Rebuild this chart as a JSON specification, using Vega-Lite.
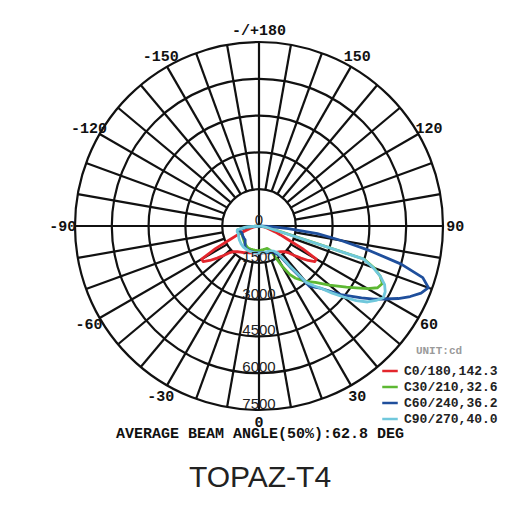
{
  "$schema": "https://vega.github.io/schema/vega-lite/v6.json",
  "width": 520,
  "height": 425,
  "padding": 0,
  "background": "white",
  "config": {"view": {"stroke": null}},
  "title": {
    "text": "AVERAGE BEAM ANGLE(50%):62.8 DEG",
    "subtitle": "TOPAZ-T4",
    "orient": "bottom",
    "anchor": "middle",
    "offset": -4,
    "font": "Liberation Mono",
    "fontSize": 15,
    "fontWeight": "bold",
    "color": "#111",
    "subtitleFont": "Liberation Sans",
    "subtitleFontSize": 30,
    "subtitleFontWeight": "normal",
    "subtitleColor": "#222",
    "subtitlePadding": 22
  },
  "layer": [
    {
      "data": {"values": [{"r": 1500}, {"r": 3000}, {"r": 4500}, {"r": 6000}, {"r": 7500}]},
      "mark": {"type": "point", "shape": "circle", "filled": false, "stroke": "#111", "strokeWidth": 2.2, "opacity": 1},
      "encoding": {
        "x": {"datum": 0, "type": "quantitative", "scale": {"domain": [-10557, 10639], "nice": false, "zero": false}, "axis": null},
        "y": {"datum": 0, "type": "quantitative", "scale": {"domain": [-8111, 9212], "nice": false, "zero": false}, "axis": null},
        "size": {"field": "r", "type": "quantitative", "scale": {"type": "pow", "exponent": 2, "domain": [0, 7500], "range": [0, 135424], "zero": true}, "legend": null}
      }
    },
    {
      "data": {"values": [
        {"a": -170, "r0": 1500}, {"a": -160, "r0": 1500}, {"a": -150, "r0": 1500}, {"a": -140, "r0": 1500}, {"a": -130, "r0": 1500}, {"a": -120, "r0": 1500}, {"a": -110, "r0": 1500}, {"a": -100, "r0": 1500}, {"a": -90, "r0": 0},
        {"a": -80, "r0": 1500}, {"a": -70, "r0": 1500}, {"a": -60, "r0": 1500}, {"a": -50, "r0": 1500}, {"a": -40, "r0": 1500}, {"a": -30, "r0": 1500}, {"a": -20, "r0": 1500}, {"a": -10, "r0": 1500}, {"a": 0, "r0": 0},
        {"a": 10, "r0": 1500}, {"a": 20, "r0": 1500}, {"a": 30, "r0": 1500}, {"a": 40, "r0": 1500}, {"a": 50, "r0": 1500}, {"a": 60, "r0": 1500}, {"a": 70, "r0": 1500}, {"a": 80, "r0": 1500}, {"a": 90, "r0": 0},
        {"a": 100, "r0": 1500}, {"a": 110, "r0": 1500}, {"a": 120, "r0": 1500}, {"a": 130, "r0": 1500}, {"a": 140, "r0": 1500}, {"a": 150, "r0": 1500}, {"a": 160, "r0": 1500}, {"a": 170, "r0": 1500}, {"a": 180, "r0": 0}
      ]},
      "transform": [
        {"calculate": "datum.r0 * sin(datum.a * PI / 180)", "as": "x1"},
        {"calculate": "-datum.r0 * cos(datum.a * PI / 180)", "as": "y1"},
        {"calculate": "7500 * sin(datum.a * PI / 180)", "as": "x2"},
        {"calculate": "-7500 * cos(datum.a * PI / 180)", "as": "y2"}
      ],
      "mark": {"type": "rule", "color": "#111", "strokeWidth": 2.2},
      "encoding": {
        "x": {"field": "x1", "type": "quantitative", "scale": {"domain": [-10557, 10639], "nice": false, "zero": false}, "axis": null},
        "y": {"field": "y1", "type": "quantitative", "scale": {"domain": [-8111, 9212], "nice": false, "zero": false}, "axis": null},
        "x2": {"field": "x2"},
        "y2": {"field": "y2"}
      }
    },
    {
      "data": {"values": [
        {"s": "C0/180,142.3", "g": -90, "v": 0}, {"s": "C0/180,142.3", "g": -85, "v": 60}, {"s": "C0/180,142.3", "g": -80, "v": 180}, {"s": "C0/180,142.3", "g": -75, "v": 380}, {"s": "C0/180,142.3", "g": -70, "v": 700}, {"s": "C0/180,142.3", "g": -67.5, "v": 950}, {"s": "C0/180,142.3", "g": -65, "v": 1300}, {"s": "C0/180,142.3", "g": -62.5, "v": 2000}, {"s": "C0/180,142.3", "g": -60, "v": 2700}, {"s": "C0/180,142.3", "g": -57.5, "v": 2700}, {"s": "C0/180,142.3", "g": -55, "v": 2450}, {"s": "C0/180,142.3", "g": -52.5, "v": 2150}, {"s": "C0/180,142.3", "g": -50, "v": 1850}, {"s": "C0/180,142.3", "g": -47.5, "v": 1600}, {"s": "C0/180,142.3", "g": -45, "v": 1480}, {"s": "C0/180,142.3", "g": -40, "v": 1370}, {"s": "C0/180,142.3", "g": -35, "v": 1300}, {"s": "C0/180,142.3", "g": -30, "v": 1250}, {"s": "C0/180,142.3", "g": -25, "v": 1200}, {"s": "C0/180,142.3", "g": -20, "v": 1160}, {"s": "C0/180,142.3", "g": -15, "v": 1130}, {"s": "C0/180,142.3", "g": -10, "v": 1110}, {"s": "C0/180,142.3", "g": -5, "v": 1100},
        {"s": "C0/180,142.3", "g": 0, "v": 1100},
        {"s": "C0/180,142.3", "g": 5, "v": 1100}, {"s": "C0/180,142.3", "g": 10, "v": 1110}, {"s": "C0/180,142.3", "g": 15, "v": 1130}, {"s": "C0/180,142.3", "g": 20, "v": 1160}, {"s": "C0/180,142.3", "g": 25, "v": 1200}, {"s": "C0/180,142.3", "g": 30, "v": 1250}, {"s": "C0/180,142.3", "g": 35, "v": 1300}, {"s": "C0/180,142.3", "g": 40, "v": 1370}, {"s": "C0/180,142.3", "g": 45, "v": 1480}, {"s": "C0/180,142.3", "g": 47.5, "v": 1600}, {"s": "C0/180,142.3", "g": 50, "v": 1850}, {"s": "C0/180,142.3", "g": 52.5, "v": 2150}, {"s": "C0/180,142.3", "g": 55, "v": 2450}, {"s": "C0/180,142.3", "g": 57.5, "v": 2700}, {"s": "C0/180,142.3", "g": 60, "v": 2700}, {"s": "C0/180,142.3", "g": 62.5, "v": 2000}, {"s": "C0/180,142.3", "g": 65, "v": 1300}, {"s": "C0/180,142.3", "g": 67.5, "v": 950}, {"s": "C0/180,142.3", "g": 70, "v": 700}, {"s": "C0/180,142.3", "g": 75, "v": 380}, {"s": "C0/180,142.3", "g": 80, "v": 180}, {"s": "C0/180,142.3", "g": 85, "v": 60}, {"s": "C0/180,142.3", "g": 90, "v": 0},

        {"s": "C30/210,32.6", "g": -90, "v": 0}, {"s": "C30/210,32.6", "g": -85, "v": 480}, {"s": "C30/210,32.6", "g": -80, "v": 870}, {"s": "C30/210,32.6", "g": -75, "v": 860}, {"s": "C30/210,32.6", "g": -70, "v": 800}, {"s": "C30/210,32.6", "g": -65, "v": 780}, {"s": "C30/210,32.6", "g": -60, "v": 780}, {"s": "C30/210,32.6", "g": -55, "v": 800}, {"s": "C30/210,32.6", "g": -50, "v": 830}, {"s": "C30/210,32.6", "g": -45, "v": 860}, {"s": "C30/210,32.6", "g": -40, "v": 900}, {"s": "C30/210,32.6", "g": -35, "v": 940}, {"s": "C30/210,32.6", "g": -30, "v": 980}, {"s": "C30/210,32.6", "g": -25, "v": 1000}, {"s": "C30/210,32.6", "g": -20, "v": 1000}, {"s": "C30/210,32.6", "g": -15, "v": 1000}, {"s": "C30/210,32.6", "g": -10, "v": 1000}, {"s": "C30/210,32.6", "g": -5, "v": 1000},
        {"s": "C30/210,32.6", "g": 0, "v": 1000}, {"s": "C30/210,32.6", "g": 5, "v": 990}, {"s": "C30/210,32.6", "g": 10, "v": 980}, {"s": "C30/210,32.6", "g": 15, "v": 970}, {"s": "C30/210,32.6", "g": 20, "v": 970}, {"s": "C30/210,32.6", "g": 25, "v": 1100}, {"s": "C30/210,32.6", "g": 27.5, "v": 1400}, {"s": "C30/210,32.6", "g": 30, "v": 1900}, {"s": "C30/210,32.6", "g": 32.5, "v": 2350}, {"s": "C30/210,32.6", "g": 35, "v": 2600}, {"s": "C30/210,32.6", "g": 40, "v": 2950}, {"s": "C30/210,32.6", "g": 45, "v": 3250}, {"s": "C30/210,32.6", "g": 50, "v": 3750}, {"s": "C30/210,32.6", "g": 55, "v": 4350}, {"s": "C30/210,32.6", "g": 57.5, "v": 4700}, {"s": "C30/210,32.6", "g": 60, "v": 5100}, {"s": "C30/210,32.6", "g": 62.5, "v": 5450}, {"s": "C30/210,32.6", "g": 65, "v": 5550}, {"s": "C30/210,32.6", "g": 67.5, "v": 5350}, {"s": "C30/210,32.6", "g": 70, "v": 5000}, {"s": "C30/210,32.6", "g": 72.5, "v": 4500}, {"s": "C30/210,32.6", "g": 75, "v": 1000}, {"s": "C30/210,32.6", "g": 80, "v": 350}, {"s": "C30/210,32.6", "g": 85, "v": 100}, {"s": "C30/210,32.6", "g": 90, "v": 0},

        {"s": "C60/240,36.2", "g": -90, "v": 0}, {"s": "C60/240,36.2", "g": -85, "v": 450}, {"s": "C60/240,36.2", "g": -80, "v": 800}, {"s": "C60/240,36.2", "g": -75, "v": 800}, {"s": "C60/240,36.2", "g": -70, "v": 760}, {"s": "C60/240,36.2", "g": -65, "v": 750}, {"s": "C60/240,36.2", "g": -60, "v": 770}, {"s": "C60/240,36.2", "g": -55, "v": 780}, {"s": "C60/240,36.2", "g": -50, "v": 790}, {"s": "C60/240,36.2", "g": -45, "v": 800}, {"s": "C60/240,36.2", "g": -40, "v": 880}, {"s": "C60/240,36.2", "g": -35, "v": 1000}, {"s": "C60/240,36.2", "g": -30, "v": 1060}, {"s": "C60/240,36.2", "g": -20, "v": 1080}, {"s": "C60/240,36.2", "g": -10, "v": 1100},
        {"s": "C60/240,36.2", "g": 0, "v": 1100}, {"s": "C60/240,36.2", "g": 10, "v": 1100}, {"s": "C60/240,36.2", "g": 20, "v": 1150}, {"s": "C60/240,36.2", "g": 30, "v": 1250}, {"s": "C60/240,36.2", "g": 35, "v": 1500}, {"s": "C60/240,36.2", "g": 37.5, "v": 2200}, {"s": "C60/240,36.2", "g": 40, "v": 3200}, {"s": "C60/240,36.2", "g": 45, "v": 3600}, {"s": "C60/240,36.2", "g": 50, "v": 4350}, {"s": "C60/240,36.2", "g": 55, "v": 5100}, {"s": "C60/240,36.2", "g": 57.5, "v": 5550}, {"s": "C60/240,36.2", "g": 60, "v": 5950}, {"s": "C60/240,36.2", "g": 62.5, "v": 6400}, {"s": "C60/240,36.2", "g": 65, "v": 6800}, {"s": "C60/240,36.2", "g": 67.5, "v": 7150}, {"s": "C60/240,36.2", "g": 70, "v": 7350}, {"s": "C60/240,36.2", "g": 72.5, "v": 7000}, {"s": "C60/240,36.2", "g": 75, "v": 6000}, {"s": "C60/240,36.2", "g": 77.5, "v": 4600}, {"s": "C60/240,36.2", "g": 80, "v": 3400}, {"s": "C60/240,36.2", "g": 82.5, "v": 2400}, {"s": "C60/240,36.2", "g": 85, "v": 1200}, {"s": "C60/240,36.2", "g": 87.5, "v": 400}, {"s": "C60/240,36.2", "g": 90, "v": 0},

        {"s": "C90/270,40.0", "g": -90, "v": 0}, {"s": "C90/270,40.0", "g": -85, "v": 550}, {"s": "C90/270,40.0", "g": -80, "v": 900}, {"s": "C90/270,40.0", "g": -75, "v": 920}, {"s": "C90/270,40.0", "g": -70, "v": 900}, {"s": "C90/270,40.0", "g": -65, "v": 920}, {"s": "C90/270,40.0", "g": -60, "v": 950}, {"s": "C90/270,40.0", "g": -55, "v": 980}, {"s": "C90/270,40.0", "g": -50, "v": 1000}, {"s": "C90/270,40.0", "g": -45, "v": 1030}, {"s": "C90/270,40.0", "g": -40, "v": 1050}, {"s": "C90/270,40.0", "g": -35, "v": 1070}, {"s": "C90/270,40.0", "g": -30, "v": 1080}, {"s": "C90/270,40.0", "g": -20, "v": 1100}, {"s": "C90/270,40.0", "g": -10, "v": 1100},
        {"s": "C90/270,40.0", "g": 0, "v": 1100}, {"s": "C90/270,40.0", "g": 10, "v": 1100}, {"s": "C90/270,40.0", "g": 20, "v": 1100}, {"s": "C90/270,40.0", "g": 25, "v": 1120}, {"s": "C90/270,40.0", "g": 30, "v": 1180}, {"s": "C90/270,40.0", "g": 35, "v": 1350}, {"s": "C90/270,40.0", "g": 37.5, "v": 2000}, {"s": "C90/270,40.0", "g": 40, "v": 3000}, {"s": "C90/270,40.0", "g": 42.5, "v": 3300}, {"s": "C90/270,40.0", "g": 45, "v": 3600}, {"s": "C90/270,40.0", "g": 47.5, "v": 4050}, {"s": "C90/270,40.0", "g": 50, "v": 4500}, {"s": "C90/270,40.0", "g": 52.5, "v": 5000}, {"s": "C90/270,40.0", "g": 55, "v": 5400}, {"s": "C90/270,40.0", "g": 57.5, "v": 5650}, {"s": "C90/270,40.0", "g": 60, "v": 5850}, {"s": "C90/270,40.0", "g": 62.5, "v": 5800}, {"s": "C90/270,40.0", "g": 65, "v": 5650}, {"s": "C90/270,40.0", "g": 67.5, "v": 5350}, {"s": "C90/270,40.0", "g": 70, "v": 4950}, {"s": "C90/270,40.0", "g": 72.5, "v": 4450}, {"s": "C90/270,40.0", "g": 75, "v": 900}, {"s": "C90/270,40.0", "g": 80, "v": 300}, {"s": "C90/270,40.0", "g": 85, "v": 100}, {"s": "C90/270,40.0", "g": 90, "v": 0}
      ]},
      "transform": [
        {"calculate": "datum.v * sin(datum.g * PI / 180)", "as": "px"},
        {"calculate": "-datum.v * cos(datum.g * PI / 180)", "as": "py"}
      ],
      "mark": {"type": "line", "strokeWidth": 2.8, "strokeJoin": "round"},
      "encoding": {
        "x": {"field": "px", "type": "quantitative", "scale": {"domain": [-10557, 10639], "nice": false, "zero": false}, "axis": null},
        "y": {"field": "py", "type": "quantitative", "scale": {"domain": [-8111, 9212], "nice": false, "zero": false}, "axis": null},
        "order": {"field": "g", "type": "quantitative"},
        "color": {
          "field": "s", "type": "nominal",
          "scale": {"domain": ["C0/180,142.3", "C30/210,32.6", "C60/240,36.2", "C90/270,40.0"], "range": ["#e3262d", "#5db833", "#1f4f9c", "#70c8dc"]},
          "legend": {
            "orient": "none", "legendX": 381, "legendY": 345, "title": "UNIT:cd",
            "symbolType": "stroke", "symbolSize": 240, "symbolStrokeWidth": 2.5,
            "labelFont": "Liberation Mono", "labelFontSize": 13, "labelFontWeight": "bold", "labelColor": "#222", "labelOffset": 5, "labelLimit": 200,
            "titleFont": "Liberation Mono", "titleFontSize": 11, "titleFontWeight": "bold", "titleColor": "#9a9a9a", "titleAnchor": "middle", "titlePadding": 6,
            "rowPadding": 0, "padding": 0
          }
        }
      }
    },
    {
      "data": {"values": [{"r": 0, "t": "0"}, {"r": 1500, "t": "1500"}, {"r": 3000, "t": "3000"}, {"r": 4500, "t": "4500"}, {"r": 6000, "t": "6000"}, {"r": 7500, "t": "7500"}]},
      "transform": [{"calculate": "-datum.r", "as": "ny"}],
      "mark": {"type": "text", "font": "Liberation Sans", "fontSize": 15, "color": "#222", "align": "center", "baseline": "alphabetic", "dy": -1},
      "encoding": {
        "x": {"datum": 0, "type": "quantitative", "scale": {"domain": [-10557, 10639], "nice": false, "zero": false}, "axis": null},
        "y": {"field": "ny", "type": "quantitative", "scale": {"domain": [-8111, 9212], "nice": false, "zero": false}, "axis": null},
        "text": {"field": "t"}
      }
    },
    {
      "data": {"values": [
        {"a": 0, "t": "0"}, {"a": 30, "t": "30"}, {"a": 60, "t": "60"}, {"a": 90, "t": "90"}, {"a": 120, "t": "120"}, {"a": 150, "t": "150"}, {"a": 180, "t": "-/+180"},
        {"a": -30, "t": "-30"}, {"a": -60, "t": "-60"}, {"a": -90, "t": "-90"}, {"a": -120, "t": "-120"}, {"a": -150, "t": "-150"}
      ]},
      "transform": [
        {"calculate": "8000 * sin(datum.a * PI / 180)", "as": "lx"},
        {"calculate": "-8000 * cos(datum.a * PI / 180)", "as": "ly"}
      ],
      "mark": {"type": "text", "font": "Liberation Mono", "fontSize": 15, "fontWeight": "bold", "color": "#111", "align": "center", "baseline": "middle"},
      "encoding": {
        "x": {"field": "lx", "type": "quantitative", "scale": {"domain": [-10557, 10639], "nice": false, "zero": false}, "axis": null},
        "y": {"field": "ly", "type": "quantitative", "scale": {"domain": [-8111, 9212], "nice": false, "zero": false}, "axis": null},
        "text": {"field": "t"}
      }
    }
  ]
}
